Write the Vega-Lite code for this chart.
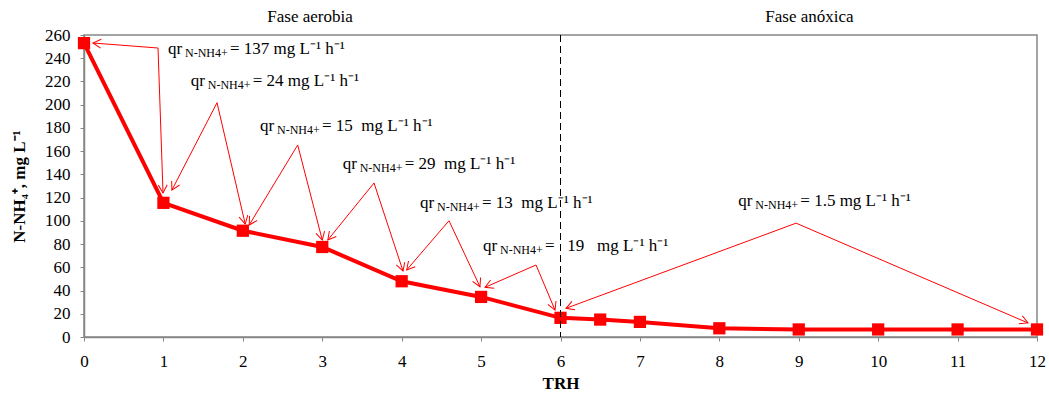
{
  "$schema": "https://vega.github.io/schema/vega-lite/v6.json",
  "width": 953,
  "height": 302,
  "autosize": {"type": "none"},
  "padding": {"left": 84, "top": 35, "right": 12, "bottom": 63},
  "background": "white",
  "config": {
    "font": "Liberation Serif",
    "view": {"stroke": "#868686", "strokeWidth": 1.5},
    "axis": {
      "labelFont": "Liberation Serif",
      "titleFont": "Liberation Serif",
      "labelFontSize": 17,
      "titleFontSize": 17,
      "labelColor": "#000000",
      "titleColor": "#000000",
      "titleFontWeight": "bold",
      "domainColor": "#868686",
      "domainWidth": 1.5,
      "tickColor": "#868686",
      "tickSize": 4,
      "grid": false,
      "labelOverlap": false,
      "labelFlush": false,
      "format": "d"
    },
    "axisY": {"tickCount": 30, "labelOverlap": false, "labelPadding": 10, "titlePadding": 16},
    "axisX": {"tickCount": 30, "labelOverlap": false, "labelPadding": 12, "titlePadding": 6}
  },
  "datasets": {
    "series": [
      {"x": 0, "y": 253},
      {"x": 1, "y": 115.5},
      {"x": 2, "y": 91.5},
      {"x": 3, "y": 77.5},
      {"x": 4, "y": 48},
      {"x": 5, "y": 34.5},
      {"x": 6, "y": 16.5},
      {"x": 6.5, "y": 15},
      {"x": 7, "y": 13},
      {"x": 8, "y": 7.5},
      {"x": 9, "y": 6.5},
      {"x": 10, "y": 6.5},
      {"x": 11, "y": 6.5},
      {"x": 12, "y": 6.5}
    ],
    "arrows": [
      {"g": 1, "o": 0, "x": 0.113, "y": 253.1, "ang": 274.4},
      {"g": 1, "o": 1, "x": 0.932, "y": 248.8},
      {"g": 1, "o": 2, "x": 0.995, "y": 124.0, "ang": 178},
      {"g": 2, "o": 0, "x": 1.107, "y": 126.5, "ang": 207.3},
      {"g": 2, "o": 1, "x": 1.675, "y": 201.7},
      {"g": 2, "o": 2, "x": 2.03, "y": 97.3, "ang": 167},
      {"g": 3, "o": 0, "x": 2.08, "y": 96.4, "ang": 211.3},
      {"g": 3, "o": 1, "x": 2.691, "y": 165.3},
      {"g": 3, "o": 2, "x": 3.0, "y": 83.5, "ang": 165.7},
      {"g": 4, "o": 0, "x": 3.07, "y": 83.5, "ang": 218.9},
      {"g": 4, "o": 1, "x": 3.652, "y": 132.6},
      {"g": 4, "o": 2, "x": 4.017, "y": 56.8, "ang": 161.8},
      {"g": 5, "o": 0, "x": 4.063, "y": 57.7, "ang": 220.6},
      {"g": 5, "o": 1, "x": 4.596, "y": 100.1},
      {"g": 5, "o": 2, "x": 4.986, "y": 43.3, "ang": 154.8},
      {"g": 6, "o": 0, "x": 5.05, "y": 42.8, "ang": 246.4},
      {"g": 6, "o": 1, "x": 5.692, "y": 62.0},
      {"g": 6, "o": 2, "x": 5.931, "y": 23.2, "ang": 157.1},
      {"g": 7, "o": 0, "x": 6.069, "y": 24.7, "ang": 249.6},
      {"g": 7, "o": 1, "x": 8.966, "y": 98.0},
      {"g": 7, "o": 2, "x": 11.886, "y": 12.1, "ang": 113.3}
    ],
    "labels": [
      {"x": 1.058, "y": 243.6, "rate": "= 137 mg L⁻¹ h⁻¹"},
      {"x": 1.344, "y": 216.1, "rate": "= 24 mg L⁻¹ h⁻¹"},
      {"x": 2.216, "y": 177.6, "rate": "= 15\u00a0 mg L⁻¹ h⁻¹"},
      {"x": 3.257, "y": 144.6, "rate": "= 29\u00a0 mg L⁻¹ h⁻¹"},
      {"x": 4.231, "y": 111.3, "rate": "= 13\u00a0 mg L⁻¹ h⁻¹"},
      {"x": 5.024, "y": 74.3, "rate": "=\u00a0\u00a0 19\u00a0\u00a0 mg L⁻¹ h⁻¹"},
      {"x": 8.239, "y": 113.2, "rate": "= 1.5 mg L⁻¹ h⁻¹"}
    ],
    "phases": [
      {"x": 2.846, "y": 271.2, "text": "Fase aerobia"},
      {"x": 9.135, "y": 271.2, "text": "Fase anóxica"}
    ],
    "boundary": [
      {"x": 6}
    ]
  },
  "encoding": {
    "x": {"field": "x", "type": "quantitative", "scale": {"domain": [0, 12], "nice": false},
          "axis": {"title": "TRH", "values": [0,1,2,3,4,5,6,7,8,9,10,11,12]}},
    "y": {"field": "y", "type": "quantitative", "scale": {"domain": [0, 260], "nice": false},
          "axis": {"title": "N-NH₄⁺, mg L⁻¹", "values": [0,20,40,60,80,100,120,140,160,180,200,220,240,260]}}
  },
  "layer": [
    {
      "data": {"name": "arrows"},
      "mark": {"type": "line", "color": "#FF0000", "strokeWidth": 1},
      "encoding": {
        "detail": {"field": "g", "type": "nominal"},
        "order": {"field": "o", "type": "quantitative"}
      }
    },
    {
      "data": {"name": "arrows"},
      "transform": [{"filter": "isValid(datum.ang)"}],
      "mark": {"type": "point", "shape": "M -0.5 0.9 L 0 0 L 0.5 0.9", "size": 316, "filled": false, "stroke": "#FF0000", "strokeWidth": 1, "opacity": 1},
      "encoding": {
        "angle": {"field": "ang", "type": "quantitative", "scale": null}
      }
    },
    {
      "data": {"name": "series"},
      "mark": {"type": "line", "color": "#FF0000", "strokeWidth": 4}
    },
    {
      "data": {"name": "series"},
      "mark": {"type": "point", "shape": "square", "size": 150, "filled": true, "color": "#FF0000", "opacity": 1}
    },
    {
      "data": {"name": "labels"},
      "mark": {"type": "text", "text": "qr", "align": "left", "baseline": "alphabetic", "fontSize": 17, "color": "#000000"}
    },
    {
      "data": {"name": "labels"},
      "mark": {"type": "text", "text": "N-NH4+", "align": "left", "baseline": "alphabetic", "fontSize": 12, "dx": 17, "dy": 3, "color": "#000000"}
    },
    {
      "data": {"name": "labels"},
      "mark": {"type": "text", "align": "left", "baseline": "alphabetic", "fontSize": 17, "dx": 62, "color": "#000000"},
      "encoding": {
        "text": {"field": "rate", "type": "nominal"}
      }
    },
    {
      "data": {"name": "phases"},
      "mark": {"type": "text", "align": "center", "baseline": "alphabetic", "fontSize": 17, "color": "#000000"},
      "encoding": {
        "text": {"field": "text", "type": "nominal"}
      }
    },
    {
      "data": {"name": "boundary"},
      "mark": {"type": "rule", "color": "#000000", "strokeWidth": 1, "strokeDash": [7, 4]},
      "encoding": {
        "y": null
      }
    }
  ]
}
